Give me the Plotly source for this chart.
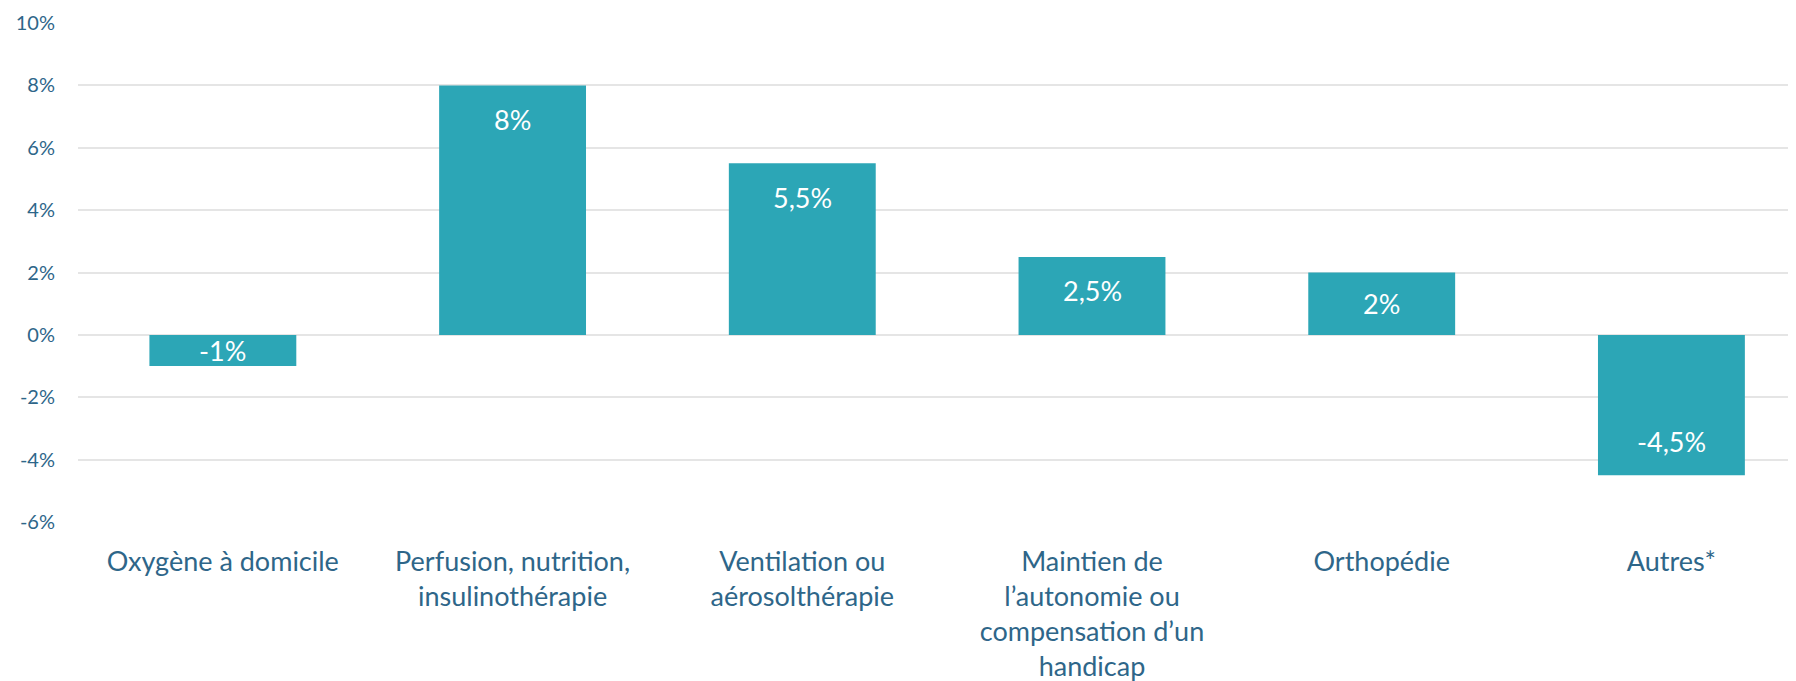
import plotly.graph_objects as go

categories = [
    "Oxygène à domicile",
    "Perfusion, nutrition,<br>insulinothérapie",
    "Ventilation ou<br>aérosolthérapie",
    "Maintien de<br>l’autonomie ou<br>compensation d’un<br>handicap",
    "Orthopédie",
    "Autres*",
]
values = [-1, 8, 5.5, 2.5, 2, -4.5]
value_labels = ["-1%", "8%", "5,5%", "2,5%", "2%", "-4,5%"]
y_tickvals = [-6, -4, -2, 0, 2, 4, 6, 8, 10]
y_ticktext = ["-6%", "-4%", "-2%", "0%", "2%", "4%", "6%", "8%", "10%"]

# page body has an 8px default margin, so the figure is 8px smaller
W, H = 1788, 673
M_T, M_B, M_L, M_R = 15, 159, 70, 0
Y_RANGE = [-6, 10]
BAR_COLOR = "#2CA6B6"
TEXT_COLOR = "#2E6689"
FONT = "Lato, Open Sans, sans-serif"

x_idx = list(range(len(categories)))

fig = go.Figure()
fig.add_trace(go.Bar(
    x=x_idx, y=values, width=0.507,
    marker=dict(color=BAR_COLOR, line=dict(width=0)),
    hoverinfo="skip",
))

ppu = (H - M_T - M_B) / (Y_RANGE[1] - Y_RANGE[0])
for xi, v, lab in zip(x_idx, values, value_labels):
    off = min(34, abs(v) * ppu / 2)
    fig.add_annotation(
        x=xi, y=v, text=lab, showarrow=False,
        yshift=-off if v > 0 else off,
        font=dict(family=FONT, size=27, color="white"),
    )

fig.update_layout(
    width=W, height=H,
    margin=dict(l=M_L, r=M_R, t=M_T, b=M_B),
    plot_bgcolor="white", paper_bgcolor="white",
    showlegend=False,
    font=dict(family=FONT, color=TEXT_COLOR),
)
fig.update_xaxes(
    range=[-0.5, 5.43],
    tickvals=x_idx, ticktext=categories,
    tickfont=dict(family=FONT, size=27, color=TEXT_COLOR),
    showgrid=False, zeroline=False, showline=False, ticks="",
    ticklabelstandoff=21,
    automargin=False,
)
fig.update_yaxes(
    range=Y_RANGE,
    tickvals=y_tickvals, ticktext=y_ticktext,
    tickfont=dict(family=FONT, size=20, color=TEXT_COLOR),
    showgrid=True, gridcolor="#E5E5E5", gridwidth=1.5,
    zeroline=True, zerolinecolor="#E5E5E5", zerolinewidth=1.5,
    showline=False, ticks="",
    ticklabelstandoff=22,
    automargin=False,
)

fig.write_html("out.html")
